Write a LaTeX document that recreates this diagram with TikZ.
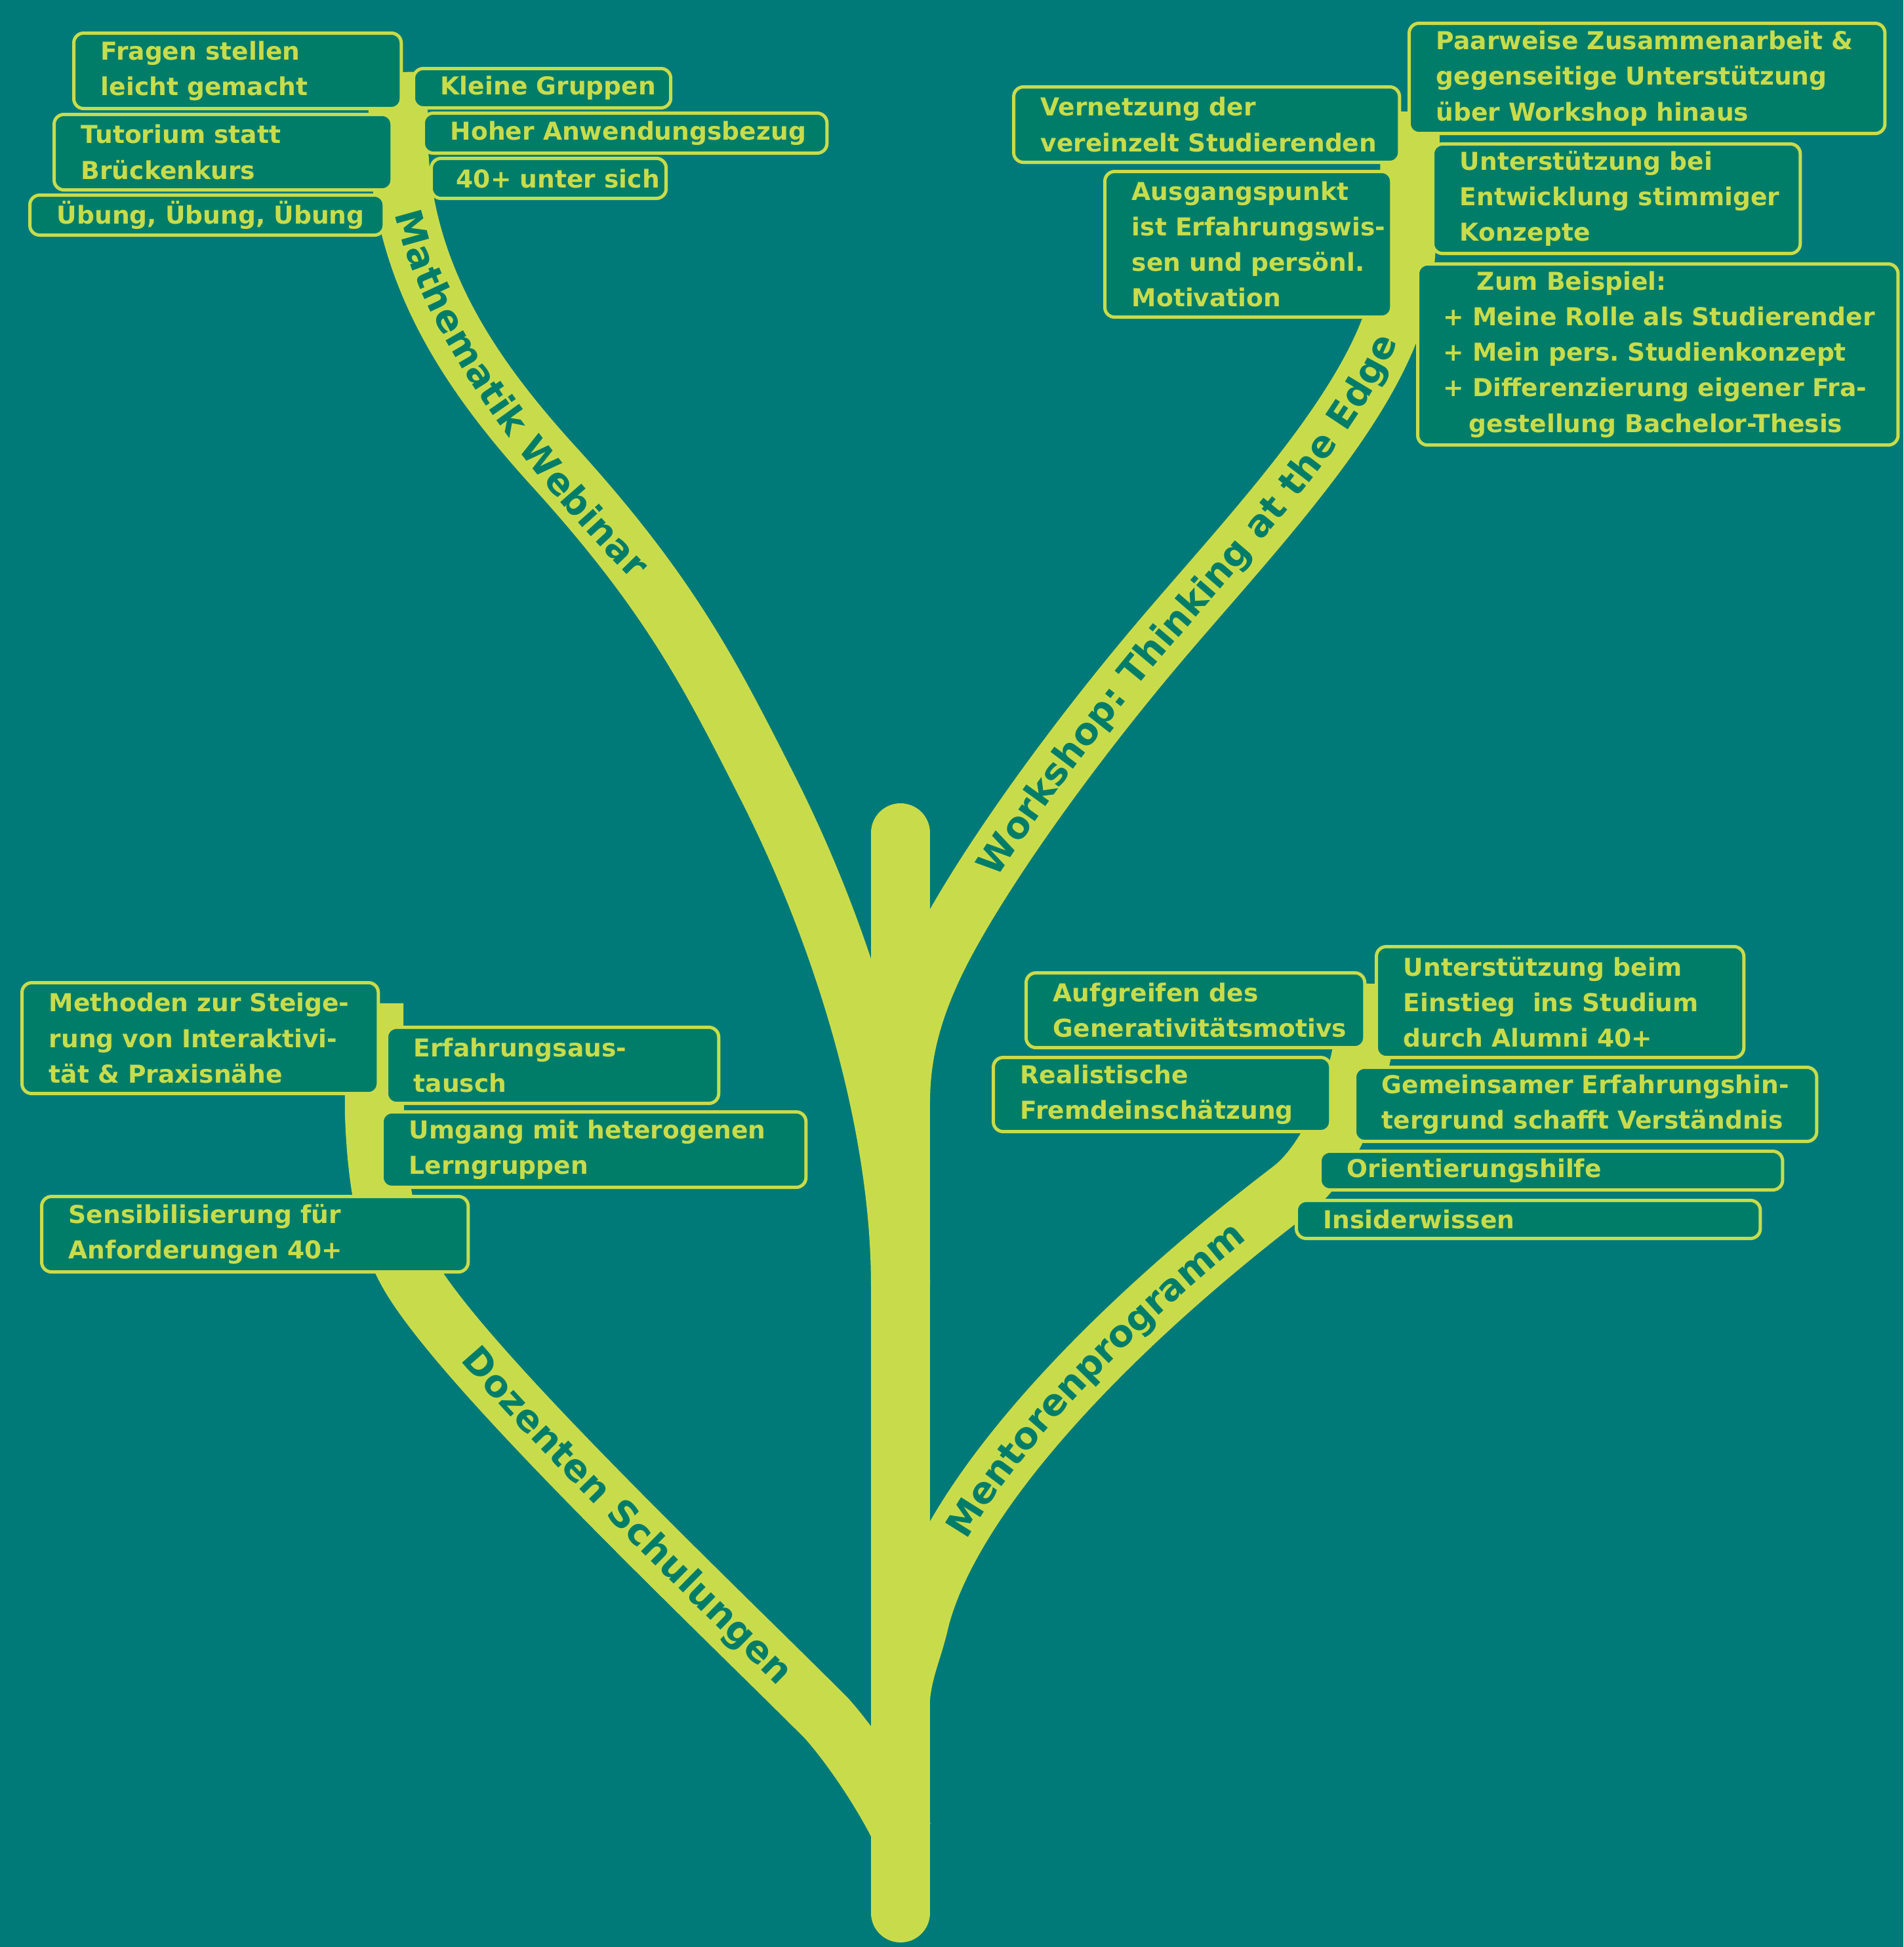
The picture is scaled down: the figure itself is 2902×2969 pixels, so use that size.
\documentclass[tikz,border=0pt]{standalone}
\usepackage{fontspec}
\setmainfont{DejaVu Sans}
\usetikzlibrary{positioning,decorations.text}
\definecolor{bgteal}{HTML}{007A78}
\definecolor{limey}{HTML}{C8DC4B}
\definecolor{leafgreen}{HTML}{007D69}
\newcommand\boxfont{\fontsize{10.7}{15.4}\selectfont\bfseries\frenchspacing}
\newcommand\lblfont{\fontsize{16}{16}\selectfont\bfseries}
\tikzstyle{leaf} = [draw=limey,line width=0.05cm,fill=leafgreen,rounded corners=0.15cm,anchor=north west,inner sep=0]
\tikzstyle{leaftext} = [text=limey,align=left,inner sep=0,font=\boxfont]
\tikzstyle{twig} = [draw=limey,line width=0.9cm]
\tikzstyle{trunk} = [draw=limey,line width=0.9cm,line cap=round]
\tikzstyle{branchlabel} = [decorate,decoration={text along path,text align=center,text color=leafgreen,raise=-5pt}]
\def \gap {0.43cm}

\begin{document}
\begin{tikzpicture}[x=0.01cm,y=-0.01cm]
  \useasboundingbox (0,0) rectangle (2902,2969);
  \fill[bgteal] (0,0) rectangle (2902,2969);

  % stem
  \coordinate (base) at (1373,2917);
  \coordinate (tip) at (1373,1270);
  \draw[trunk] (base) -- (tip);

  % branches
  \draw[twig] (606,110) -- (608,230) .. controls (618,430) and (725,580) .. (845,712)
     .. controls (1025,910) and (1086,1035) .. (1170,1200)
     .. controls (1284,1425) and (1373,1710) .. (1373,1960);
  \draw[twig] (1373,1680) .. controls (1373,1600) and (1395,1535) .. (1420,1480)
     .. controls (1470,1370) and (1600,1180) .. (1750,1000)
     .. controls (1900,820) and (2120,600) .. (2140,420)
     .. controls (2149,340) and (2150,250) .. (2150,170);
  \draw[twig] (570,1530) -- (571,1700) .. controls (575,1820) and (595,1892) .. (622,1940)
     .. controls (700,2080) and (1080,2440) .. (1260,2620)
     .. controls (1300,2665) and (1350,2740) .. (1378,2800);
  \draw[twig] (1373,2590) .. controls (1376,2550) and (1390,2520) .. (1400,2480)
     .. controls (1440,2300) and (1660,2050) .. (1968,1815)
     .. controls (2030,1768) and (2086,1640) .. (2088,1500);

  % branch names
  \path[branchlabel,decoration={text={|\lblfont|Mathematik Webinar}}] (614,290) .. controls (630,420) and (740,640) .. (1000,895);
  \path[branchlabel,decoration={text={|\lblfont|Workshop: Thinking at the Edge}}] (1420,1480) .. controls (1470,1370) and (1600,1180) .. (1750,1000) .. controls (1900,820) and (2120,600) .. (2140,420) -- (2148,344);
  \path[branchlabel,decoration={text={|\lblfont|Dozenten Schulungen}}] (622,1940) .. controls (700,2080) and (1080,2440) .. (1260,2620) -- (1308,2668);
  \path[branchlabel,decoration={text={|\lblfont|Mentorenprogramm}}] (1400,2480) .. controls (1440,2300) and (1660,2050) .. (1968,1815) -- (2011,1782);

  % Mathematik Webinar
  \node[leaf,minimum width=4.99cm,minimum height=1.15cm] (fragen) at (110,48) {};
  \node[leaftext,right=\gap of fragen.west] (fragen-t) {Fragen stellen\\leicht gemacht};
  \node[leaf,minimum width=3.92cm,minimum height=0.60cm] (kleine) at (628,102) {};
  \node[leaftext,right=\gap of kleine.west] (kleine-t) {Kleine Gruppen};
  \node[leaf,minimum width=5.15cm,minimum height=1.15cm] (tutorium) at (80,172) {};
  \node[leaftext,right=\gap of tutorium.west] (tutorium-t) {Tutorium statt\\Brückenkurs};
  \node[leaf,minimum width=6.15cm,minimum height=0.61cm] (hoher) at (643,170) {};
  \node[leaftext,right=\gap of hoher.west] (hoher-t) {Hoher Anwendungsbezug};
  \node[leaf,minimum width=3.58cm,minimum height=0.61cm] (vierzig) at (655,239) {};
  \node[leaftext,right=0.40cm of vierzig.west] (vierzig-t) {40+ unter sich};
  \node[leaf,minimum width=5.40cm,minimum height=0.61cm] (uebung) at (43,295) {};
  \node[leaftext,right=\gap of uebung.west] (uebung-t) {Übung, Übung, Übung};

  % Workshop
  \node[leaf,minimum width=7.25cm,minimum height=1.68cm] (paarweise) at (2146,33) {};
  \node[leaftext,right=\gap of paarweise.west] (paarweise-t) {Paarweise Zusammenarbeit \&\\gegenseitige Unterstützung\\über Workshop hinaus};
  \node[leaf,minimum width=5.88cm,minimum height=1.15cm] (vernetzung) at (1543,130) {};
  \node[leaftext,right=\gap of vernetzung.west] (vernetzung-t) {Vernetzung der\\vereinzelt Studierenden};
  \node[leaf,minimum width=5.60cm,minimum height=1.67cm] (konzepte) at (2182,217) {};
  \node[leaftext,right=\gap of konzepte.west] (konzepte-t) {Unterstützung bei\\Entwicklung stimmiger\\Konzepte};
  \node[leaf,minimum width=4.37cm,minimum height=2.22cm] (ausgang) at (1682,259) {};
  \node[leaftext,right=\gap of ausgang.west] (ausgang-t) {Ausgangspunkt\\ist Erfahrungswis-\\sen und persönl.\\Motivation};
  \node[leaf,minimum width=7.32cm,minimum height=2.76cm] (beispiel) at (2159,400) {};
  \node[leaftext,right=0.41cm of beispiel.west] (beispiel-t) {\hspace*{0.51cm}Zum Beispiel:\\+ Meine Rolle als Studierender\\+ Mein pers. Studienkonzept\\+ Differenzierung eigener Fra-\\\hspace*{0.39cm}gestellung Bachelor-Thesis};

  % Dozenten Schulungen
  \node[leaf,minimum width=5.43cm,minimum height=1.69cm] (methoden) at (31,1496) {};
  \node[leaftext,right=\gap of methoden.west] (methoden-t) {Methoden zur Steige-\\rung von Interaktivi-\\tät \& Praxisnähe};
  \node[leaf,minimum width=5.06cm,minimum height=1.16cm] (austausch) at (587,1564) {};
  \node[leaftext,right=\gap of austausch.west] (austausch-t) {Erfahrungsaus-\\tausch};
  \node[leaf,minimum width=6.46cm,minimum height=1.15cm] (umgang) at (580,1693) {};
  \node[leaftext,right=\gap of umgang.west] (umgang-t) {Umgang mit heterogenen\\Lerngruppen};
  \node[leaf,minimum width=6.50cm,minimum height=1.15cm] (sensibel) at (61,1822) {};
  \node[leaftext,right=\gap of sensibel.west] (sensibel-t) {Sensibilisierung für\\Anforderungen 40+};

  % Mentorenprogramm
  \node[leaf,minimum width=5.16cm,minimum height=1.14cm] (aufgreifen) at (1562,1481) {};
  \node[leaftext,right=\gap of aufgreifen.west] (aufgreifen-t) {Aufgreifen des\\Generativitätsmotivs};
  \node[leaf,minimum width=5.60cm,minimum height=1.69cm] (einstieg) at (2096,1441) {};
  \node[leaftext,right=\gap of einstieg.west] (einstieg-t) {Unterstützung beim\\Einstieg\ \ ins Studium\\durch Alumni 40+};
  \node[leaf,minimum width=5.14cm,minimum height=1.13cm] (realistisch) at (1512,1610) {};
  \node[leaftext,right=\gap of realistisch.west] (realistisch-t) {Realistische\\Fremdeinschätzung};
  \node[leaf,minimum width=7.04cm,minimum height=1.13cm] (gemeinsam) at (2063,1625) {};
  \node[leaftext,right=\gap of gemeinsam.west] (gemeinsam-t) {Gemeinsamer Erfahrungshin-\\tergrund schafft Verständnis};
  \node[leaf,minimum width=7.05cm,minimum height=0.59cm] (orientierung) at (2010,1753) {};
  \node[leaftext,right=\gap of orientierung.west] (orientierung-t) {Orientierungshilfe};
  \node[leaf,minimum width=7.07cm,minimum height=0.58cm] (insider) at (1974,1828) {};
  \node[leaftext,right=\gap of insider.west] (insider-t) {Insiderwissen};
\end{tikzpicture}
\end{document}
